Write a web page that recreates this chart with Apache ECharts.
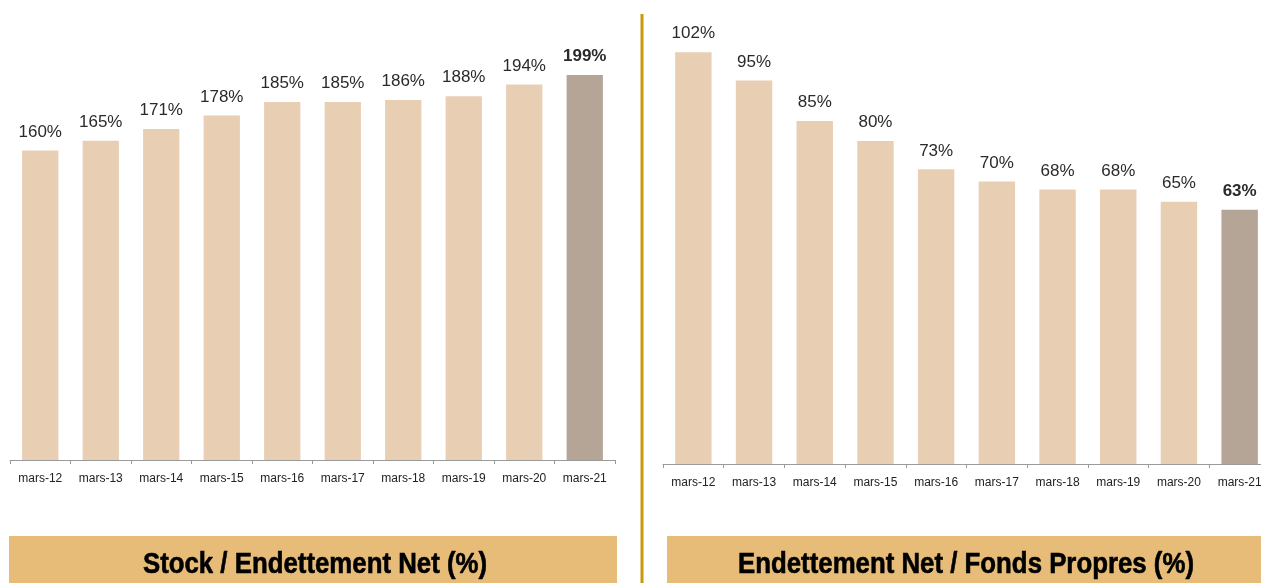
<!DOCTYPE html>
<html>
<head>
<meta charset="utf-8">
<script src="https://cdn.jsdelivr.net/npm/echarts@6/dist/echarts.min.js"></script>
<style>
html,body{margin:0;padding:0;background:#fff;}
#chart{width:1261px;height:583px;}
</style>
</head>
<body>
<div id="chart"></div>
<script>
const categories = ['mars-12','mars-13','mars-14','mars-15','mars-16','mars-17','mars-18','mars-19','mars-20','mars-21'];
const stockToNetDebt = [160,165,171,178,185,185,186,188,194,199];
const netDebtToEquity = [102,95,85,80,73,70,68,68,65,63];
const leftTitle = 'Stock / Endettement Net (%)';
const rightTitle = 'Endettement Net / Fonds Propres (%)';

const LIGHT = '#E8CFB4';
const DARK = '#B5A597';
const FONT = '"Liberation Sans", Arial, sans-serif';

function barData(vals){
  return vals.map((v,i)=>{
    const last = i === vals.length-1;
    return {
      value: v,
      itemStyle: {color: last ? DARK : LIGHT},
      label: {fontWeight: last ? 'bold' : 'normal'}
    };
  });
}

const chart = echarts.init(document.getElementById('chart'), null, {renderer:'canvas'});
const xAxisCommon = {
  type:'category',
  data: categories,
  axisLine:{show:true, lineStyle:{color:'#9a9a9a', width:1}},
  axisTick:{show:true, length:4, lineStyle:{color:'#9a9a9a'}},
  axisLabel:{color:'#222', fontSize:12, fontFamily:FONT, margin:13},
  splitLine:{show:false}
};
const yAxisCommon = {
  type:'value', min:0, show:false, splitLine:{show:false}
};
const labelCommon = {
  show:true, position:'top', distance:10,
  color:'#2a2a2a', fontSize:17, fontFamily:FONT,
  formatter: p => p.value + '%'
};
const titleFont = 'bold 29px "Liberation Sans", Arial, sans-serif';

chart.setOption({
  animation:false,
  backgroundColor:'#fff',
  grid:[
    {left:10, top:73, width:605, height:387, outerBoundsMode:'none'},
    {left:663, top:20, width:607, height:444, outerBoundsMode:'none'}
  ],
  xAxis:[
    Object.assign({gridIndex:0}, xAxisCommon),
    Object.assign({gridIndex:1}, xAxisCommon)
  ],
  yAxis:[
    Object.assign({gridIndex:0, max:200}, yAxisCommon),
    Object.assign({gridIndex:1, max:110}, yAxisCommon)
  ],
  series:[
    {type:'bar', xAxisIndex:0, yAxisIndex:0, barWidth:'60%', data:barData(stockToNetDebt), label:labelCommon},
    {type:'bar', xAxisIndex:1, yAxisIndex:1, barWidth:'60%', data:barData(netDebtToEquity), label:labelCommon}
  ],
  graphic:[
    {type:'line', shape:{x1:642, y1:14, x2:642, y2:583}, style:{stroke:'#C8990F', lineWidth:3}},
    {type:'rect', shape:{x:9, y:536, width:608, height:47}, style:{fill:'#E6BC78'}},
    {type:'rect', shape:{x:667, y:536, width:594, height:47}, style:{fill:'#E6BC78'}},
    {type:'text', x:315, y:565, scaleX:0.89, style:{text:leftTitle, fill:'#000', font:titleFont, align:'center', verticalAlign:'middle', stroke:'#000', lineWidth:0.6}},
    {type:'text', x:966, y:565, scaleX:0.89, style:{text:rightTitle, fill:'#000', font:titleFont, align:'center', verticalAlign:'middle', stroke:'#000', lineWidth:0.6}}
  ]
});
</script>
</body>
</html>
